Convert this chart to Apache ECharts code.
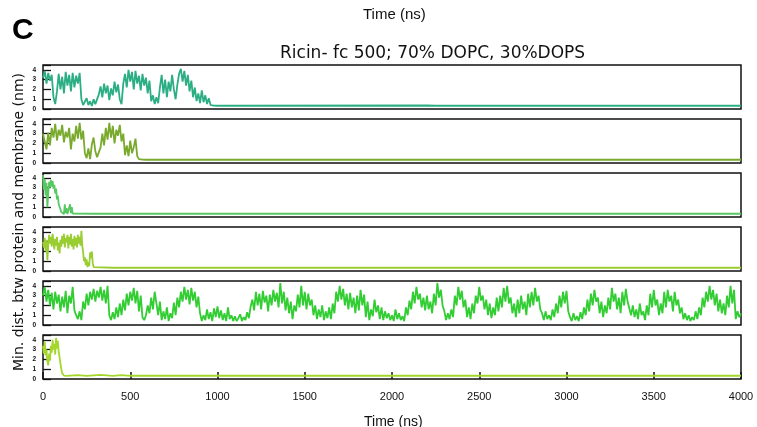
<!DOCTYPE html>
<html>
<head>
<meta charset="utf-8">
<script src="https://cdn.jsdelivr.net/npm/echarts@6/dist/echarts.min.js"></script>
<style>
  html, body { margin: 0; padding: 0; background: #fff; }
  #app { width: 757px; height: 427px; }
</style>
</head>
<body>
<div id="app"></div>
<script>
// time ticks (ns) and distance ticks (nm)
const timeTicks = [0, 500, 1000, 1500, 2000, 2500, 3000, 3500, 4000]
const distTicks = [0, 1, 2, 3, 4]

// sampling step (ns) of the active part of each trajectory
const steps = [10, 10, 5, 5, 10, 5]

const p1Values = [
  3.2, 3.9, 2.6, 3.7, 2.9, 3.5,
  1.2, 0.5, 1.8,
  3.6, 2.0, 3.3, 1.6, 3.8, 2.4, 3.5, 1.8, 3.7, 2.2, 3.4, 2.6,
  3.7, 1.0, 0.4, 0.6,
  1.1, 0.4, 0.8, 0.3, 1.0, 0.5, 0.7,
  1.5, 2.3, 1.2, 2.6, 1.6, 2.4, 0.9, 2.1, 1.4, 2.8, 1.7, 2.5, 1.0, 0.5,
  2.6, 3.6, 2.2, 4.0, 2.8, 3.8, 2.0, 3.9, 2.6, 3.4, 1.9, 3.6, 2.4, 3.2, 1.6, 2.9,
  0.8, 1.4, 0.5, 1.2, 0.6,
  2.2, 3.5, 1.6, 3.0, 1.2, 2.8, 1.8, 3.5, 2.0, 1.0, 2.5, 3.6,
  4.1, 2.8, 3.9, 2.4, 3.5,
  1.8, 2.9, 1.2, 2.2, 0.8,
  1.6, 0.6, 1.9, 0.7, 1.4, 0.5, 1.1, 0.4,
  0.5, 0.35, 0.3
]
const p1Tail = [[1000, 0.33], [2200, 0.36], [2250, 0.33], [4000, 0.33]]

const p2Values = [
  3.0, 2.2, 1.4, 3.1, 1.8,
  3.6, 2.6, 4.0, 2.3, 3.4, 2.8, 3.9, 2.1, 3.2, 2.6, 3.6, 1.4, 3.0, 2.2, 3.8, 2.5, 4.1, 2.4,
  3.3, 1.0, 0.5, 1.5, 0.4, 1.9, 2.6, 1.2, 0.6, 0.4,
  1.6, 3.0, 1.8, 3.6, 2.4, 4.1, 2.6, 3.8, 2.0, 3.4, 2.8, 3.9, 2.2, 3.0,
  0.8, 1.8, 0.7, 2.3, 1.0, 1.6, 2.5,
  0.7, 0.4, 0.6, 0.35, 0.5, 0.33
]
const p2Tail = [[600, 0.33], [2170, 0.33], [2180, 0.42], [2190, 0.33], [4000, 0.33]]

const p3Values = [
  4.3, 2.8, 3.9, 2.2, 3.5, 1.0,
  2.4, 3.6, 3.0, 3.8, 3.1, 3.7, 2.9,
  3.3, 2.4, 2.9, 1.8, 2.2, 1.3, 1.5, 0.8,
  0.5, 0.3, 0.6, 0.3,
  1.3, 0.4, 0.9,
  0.3, 0.5, 0.3,
  1.3, 0.4, 1.0,
  0.35, 0.3
]
const p3Tail = [[300, 0.33], [4000, 0.33]]

const p4Values = [
  3.0, 2.4, 3.4, 2.0, 3.2, 1.1,
  2.6, 3.7, 2.8, 3.5, 2.5, 3.8, 3.0,
  2.2, 3.3, 2.6, 3.5, 2.1, 2.9, 1.8, 3.2, 2.5, 3.6,
  2.8, 3.8, 2.4, 3.4, 2.9, 3.7, 2.3, 3.5, 2.7, 3.8, 2.5, 3.3, 2.2, 3.6, 2.6, 3.4, 2.4, 3.7, 2.8, 3.5, 2.6,
  4.1, 2.6, 1.9, 1.0,
  1.4, 0.6, 1.2, 0.4, 0.9, 0.5,
  1.9, 1.3, 2.0, 0.8,
  0.4, 0.3, 0.33
]
const p4Tail = [[400, 0.33], [4000, 0.33]]

const p5Values = [
  3.0, 3.9, 2.4, 3.6, 2.0, 3.3, 1.6, 3.4, 2.2, 3.1,
  1.4, 2.9, 1.8, 3.5, 1.2, 3.0, 2.2, 3.9, 1.5, 1.0,
  0.6, 1.4, 0.5, 2.4, 1.6, 3.2, 2.0, 3.4, 2.6, 3.7,
  2.4, 3.5, 2.8, 3.9, 2.5, 3.6, 2.2, 4.0, 1.0, 0.5,
  1.3, 0.6, 1.8, 0.8, 2.2, 1.0, 2.6, 1.5, 3.2, 2.0,
  3.4, 2.5, 3.8, 2.2, 3.5, 1.4, 3.0, 0.8, 0.5, 1.0,
  2.0, 1.2, 2.8, 1.6, 3.4, 2.2, 1.0, 2.4, 0.5, 1.4,
  0.6, 1.8, 0.4, 1.2, 0.7, 2.3, 1.0, 2.8, 1.8, 3.4,
  2.4, 3.9, 2.6, 3.6, 2.1, 3.8, 2.5, 3.4, 1.8, 2.9,
  1.2, 0.4, 1.0, 0.5, 1.6, 0.6, 1.3, 0.4, 1.7, 0.8,
  1.9, 0.7, 1.5, 0.5, 1.2, 0.4, 1.8, 0.6, 1.0, 0.4,
  0.9, 0.4, 0.7, 1.1, 0.4, 0.8, 0.5, 1.3, 0.7, 1.9,
  2.6, 1.5, 3.4, 2.0, 3.2, 1.6, 3.5, 2.3, 3.0, 1.4,
  3.1, 2.0, 3.6, 2.4, 3.3, 1.8, 4.3, 2.2, 3.4, 1.5,
  2.8, 1.2, 2.4, 0.6, 2.0, 1.4, 3.1, 1.8, 4.0, 2.0,
  3.4, 1.6, 3.2, 2.0, 2.6, 1.0, 2.0, 0.6, 1.6, 0.8,
  2.0, 0.5, 1.4, 0.7, 1.8, 0.6, 2.2, 1.2, 3.4, 2.4,
  4.0, 2.6, 3.7, 2.0, 3.2, 1.6, 3.3, 1.8, 2.8, 1.2,
  3.0, 1.5, 3.6, 2.0, 3.1, 0.8, 2.4, 0.5, 1.6, 0.9,
  2.6, 1.3, 2.0, 0.6, 1.8, 0.5, 1.4, 0.7, 1.2, 0.5,
  1.0, 0.4, 1.6, 0.6, 1.2, 0.5, 0.9, 0.4, 1.8, 1.0,
  2.5, 1.6, 3.4, 2.2, 3.9, 2.6, 3.2, 1.8, 2.8, 1.5,
  3.0, 1.6, 2.4, 1.2, 3.2, 2.0, 4.3, 2.8, 3.6, 2.0,
  1.4, 0.5, 1.2, 0.6, 1.6, 0.8, 3.0, 2.0, 3.9, 2.6,
  3.5, 1.8, 2.6, 0.8, 1.8, 0.6, 2.2, 1.2, 3.0, 2.2,
  3.9, 2.5, 3.0, 1.6, 2.6, 1.0, 2.2, 0.7, 1.8, 1.0,
  2.8, 1.4, 3.0, 1.8, 3.8, 2.4, 4.0, 2.2, 2.8, 1.2,
  2.2, 0.8, 2.6, 1.2, 3.0, 1.6, 2.4, 1.0, 3.2, 1.8,
  3.4, 2.0, 3.8, 2.4, 3.0, 1.6, 1.2, 0.5, 1.4, 0.6,
  1.0, 0.5, 1.6, 0.8, 2.2, 1.2, 3.0, 1.8, 3.4, 2.2,
  3.5, 1.4, 0.8, 0.4, 1.2, 0.5, 0.9, 0.4, 1.3, 0.6,
  1.8, 1.0, 2.6, 1.4, 3.2, 2.0, 3.6, 2.4, 2.8, 1.2,
  2.4, 0.8, 2.0, 1.2, 2.8, 1.6, 3.8, 2.4, 3.2, 1.6,
  2.8, 1.2, 3.4, 2.0, 3.7, 2.4, 2.6, 1.0, 2.0, 0.8,
  1.6, 0.6, 2.2, 1.0, 1.4, 0.5, 2.0, 1.0, 3.2, 1.8,
  3.6, 2.0, 2.6, 1.0, 2.2, 1.2, 3.4, 1.8, 3.6, 2.4,
  3.0, 1.4, 3.4, 2.0, 2.6, 1.2, 1.8, 0.6, 1.2, 0.5,
  1.0, 0.4, 0.8, 0.5, 1.4, 0.6, 1.8, 1.0, 2.8, 1.8,
  3.4, 2.4, 4.0, 2.6, 3.6, 2.0, 3.2, 1.4, 2.6, 1.2,
  2.2, 1.0, 3.0, 1.8, 4.0, 2.2, 3.6, 0.6, 1.4, 0.8,
  1.2
]
const p5Tail = []

const p6Values = [
  3.4, 2.6, 3.8, 2.4, 3.0, 1.8,
  1.4, 2.6, 1.9,
  3.4, 2.7, 4.0, 3.0, 3.6, 2.5, 4.2, 3.1, 3.9, 2.8,
  2.2, 1.6, 1.0, 0.6, 0.4,
  0.35, 0.3, 0.38, 0.32, 0.33
]
const p6Tail = [[200, 0.4], [250, 0.33], [330, 0.42], [400, 0.33], [450, 0.4], [500, 0.33], [4000, 0.33]]

const panelValues = [p1Values, p2Values, p3Values, p4Values, p5Values, p6Values]
const panelTails = [p1Tail, p2Tail, p3Tail, p4Tail, p5Tail, p6Tail]
const colors = ['#2bae83', '#79aa2d', '#58c862', '#9acd32', '#32cd32', '#a5d62b']

const app = document.getElementById('app')
const chart = echarts.init(app, null, { renderer: 'canvas' })

const n = panelValues.length
const last = n - 1
const grids = []
const xAxes = []
const yAxes = []
const series = []

for (let i = 0; i < n; i++) {
  grids.push({
    left: 43,
    right: 16,
    top: 65 + i * 54,
    height: 44,
    show: true,
    backgroundColor: '#fff',
    borderColor: '#111',
    borderWidth: 1.5
  })
  xAxes.push({
    type: 'value',
    gridIndex: i,
    min: timeTicks[0],
    max: timeTicks[timeTicks.length - 1],
    interval: 500,
    axisLine: { show: false },
    splitLine: { show: false },
    axisTick: {
      show: i === last,
      inside: true,
      length: 7,
      lineStyle: { color: '#111', width: 1.5 }
    },
    axisLabel: {
      show: i === last,
      color: '#111',
      fontFamily: 'Liberation Sans',
      fontSize: 11,
      margin: 12,
      // no thousands separator
      formatter(v) {
        return String(v)
      }
    }
  })
  yAxes.push({
    type: 'value',
    gridIndex: i,
    min: distTicks[0],
    max: 4.5,
    interval: 1,
    axisLine: { show: false },
    splitLine: { show: false },
    axisTick: {
      inside: true,
      length: 8,
      lineStyle: { color: '#111', width: 1.3 }
    },
    axisLabel: {
      color: '#111',
      fontFamily: 'Liberation Sans',
      fontWeight: 'bold',
      fontSize: 6.5,
      margin: 7,
      formatter(v) {
        return distTicks.indexOf(v) >= 0 ? String(v) : ''
      }
    }
  })
  const step = steps[i]
  const data = panelValues[i].map((v, k) => [k * step, v]).concat(panelTails[i])
  series.push({
    type: 'line',
    xAxisIndex: i,
    yAxisIndex: i,
    data: data,
    showSymbol: false,
    sampling: 'none',
    lineStyle: { color: colors[i], width: 1.8 },
    itemStyle: { color: colors[i] },
    z: 3
  })
}

chart.setOption({
  animation: false,
  backgroundColor: '#fff',
  grid: grids,
  xAxis: xAxes,
  yAxis: yAxes,
  series: series,
  title: [
    {
      text: 'C',
      left: 7,
      top: 11,
      textStyle: { fontFamily: 'Liberation Sans', fontWeight: 'bold', fontSize: 30, color: '#000' }
    },
    {
      text: 'Time (ns)',
      left: 358,
      top: 2,
      textStyle: { fontFamily: 'Liberation Sans', fontWeight: 'normal', fontSize: 15, color: '#111' }
    },
    {
      text: 'Ricin- fc 500; 70% DOPC, 30%DOPS',
      left: 275,
      top: 40,
      textStyle: { fontFamily: 'DejaVu Sans', fontWeight: 'normal', fontSize: 17, color: '#111' }
    },
    {
      text: 'Time (ns)',
      left: 359,
      top: 410,
      textStyle: { fontFamily: 'Liberation Sans', fontWeight: 'normal', fontSize: 14, color: '#111' }
    }
  ],
  graphic: [
    {
      type: 'text',
      x: 19,
      y: 222,
      rotation: Math.PI / 2,
      style: {
        text: 'Min. dist. btw protein and membrane (nm)',
        fontFamily: 'DejaVu Sans',
        fontSize: 14,
        fill: '#111',
        align: 'center',
        verticalAlign: 'middle'
      }
    }
  ]
})
</script>
</body>
</html>
